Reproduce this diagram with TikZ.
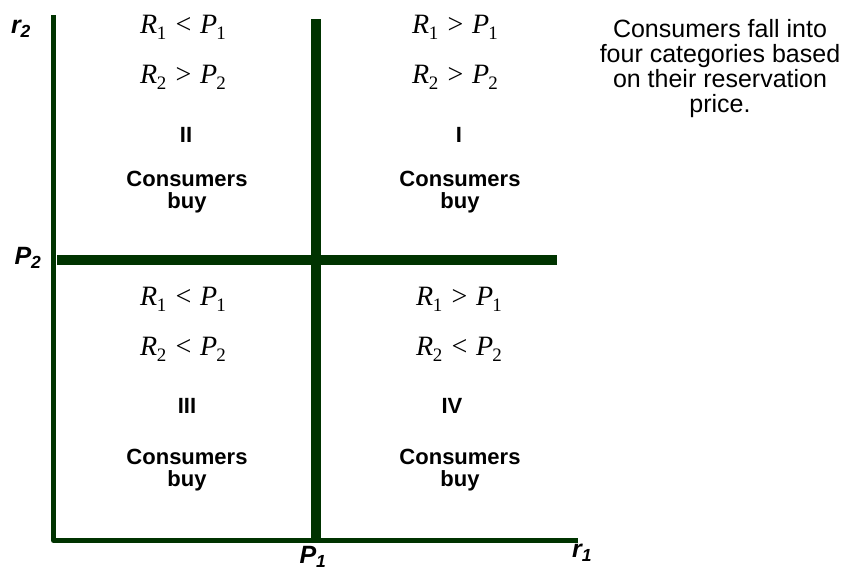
\documentclass[tikz,border=0pt]{standalone}
\usepackage{fontspec}
\setmainfont{Liberation Sans}
\newfontfamily\tnr{Liberation Serif}
\usetikzlibrary{positioning}
\definecolor{cAxis}{RGB}{0,51,0}
\newcommand{\lo}[1]{\raisebox{-6pt}{\upshape\fontsize{19}{19}\selectfont #1}}
\newcommand{\cnd}[2]{{\tnr\itshape R\kern-0.5pt\lo{#1}\hspace{7.5pt}#2\hspace{7.5pt}P\kern-1pt\lo{#1}}}
\tikzset{
	axis/.style   ={draw=cAxis, line width=5pt, line join=round},
	divider/.style={draw=cAxis, line width=10pt},
	cond/.style   ={inner sep=0pt, anchor=base, font=\fontsize{28}{28}\selectfont},
	roman/.style  ={inner sep=0pt, anchor=base, font=\bfseries\fontsize{22}{22}\selectfont},
	buy/.style    ={inner sep=0pt, anchor=north, align=center, font=\bfseries\fontsize{22}{22}\selectfont},
	axlbl/.style  ={inner sep=0pt, font=\bfseries\itshape\fontsize{25}{25}\selectfont},
	note/.style   ={inner sep=0pt, anchor=north, align=center, font=\fontsize{25}{25}\selectfont},
}
\begin{document}
\begin{tikzpicture}[x=1pt, y=-1pt]
			\useasboundingbox (0,0) rectangle (841,573);
			% axes
			\coordinate (ytop) at (53.5,15);
			\coordinate (o) at (53.5,540.5);
			\coordinate (xend) at (578,540.5);
			\draw[axis] (ytop) -- (o) -- (xend);
			% price lines
			\coordinate (p1top) at (315.5,19);
			\coordinate (p1bot) at (315.5,540.5);
			\coordinate (p2l) at (57,259.5);
			\coordinate (p2r) at (557,259.5);
			\draw[divider] (p1top) -- (p1bot);
			\draw[divider] (p2l) -- (p2r);
			% axis labels
			\node[axlbl] (r2) at (21,29) {r\textsubscript{2}};
			\node[axlbl] (P2) at (28,258) {P\textsubscript{2}};
			\node[axlbl] (P1) at (313,557) {P\textsubscript{1}};
			\node[axlbl] (r1) at (582,553) {r\textsubscript{1}};
			% quadrant II
			\node[cond] (c2a) at (183,33) {\cnd{1}{<}};
			\node[cond] (c2b) at (183,83) {\cnd{2}{>}};
			\node[roman] (q2) at (186,142) {II};
			\node[buy] (b2) at (187,171) {Consumers\\buy};
			% quadrant I
			\node[cond] (c1a) at (455,33) {\cnd{1}{>}};
			\node[cond] (c1b) at (455,83) {\cnd{2}{>}};
			\node[roman] (q1) at (459,142) {I};
			\node[buy] (b1) at (460,171) {Consumers\\buy};
			% quadrant III
			\node[cond] (c3a) at (183,305) {\cnd{1}{<}};
			\node[cond] (c3b) at (183,355) {\cnd{2}{<}};
			\node[roman] (q3) at (187,413) {III};
			\node[buy] (b3) at (187,449) {Consumers\\buy};
			% quadrant IV
			\node[cond] (c4a) at (459,305) {\cnd{1}{>}};
			\node[cond] (c4b) at (459,355) {\cnd{2}{<}};
			\node[roman] (q4) at (452,413) {IV};
			\node[buy] (b4) at (460,449) {Consumers\\buy};
			% note
			\node[note] (note) at (720,19) {Consumers fall into\\four categories based\\on their reservation\\price.};
		\end{tikzpicture}
\end{document}
